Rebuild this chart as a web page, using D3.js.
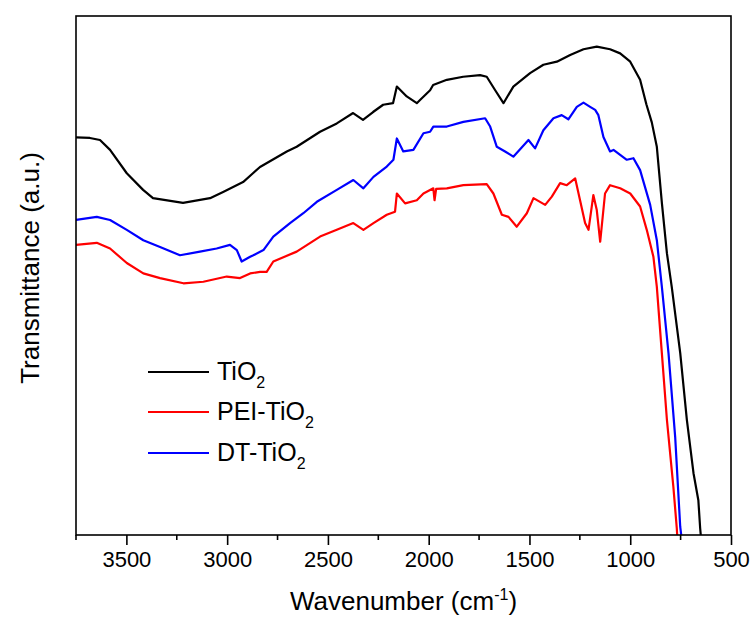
<!DOCTYPE html>
<html>
<head>
<meta charset="utf-8">
<script src="https://cdn.jsdelivr.net/npm/d3@7"></script>
<style>
  body { margin: 0; background: #fff; }
  text { font-family: Arial, "Liberation Sans", sans-serif; fill: #000; }
</style>
</head>
<body>
<svg id="chart" width="753" height="619"></svg>
<script>
// FTIR spectra, [wavenumber cm-1, transmittance a.u.]
var tio2 = [
  [3750, 76.6], [3681, 76.5], [3631, 76.1], [3581, 74.2], [3498, 69.7], [3417, 66.5],
  [3368, 64.9], [3219, 64.0], [3085, 64.9], [3020, 66.1], [2921, 68.0], [2872, 69.7],
  [2837, 70.9], [2704, 73.9], [2655, 74.8], [2539, 77.7], [2456, 79.3], [2375, 81.3],
  [2326, 80.0], [2276, 81.5], [2226, 82.9], [2177, 83.2], [2158, 86.4], [2109, 84.5],
  [2059, 83.2], [2043, 83.8], [1993, 85.7], [1978, 86.7], [1910, 87.7], [1829, 88.3],
  [1745, 88.6], [1712, 88.3], [1670, 85.7], [1629, 83.2], [1580, 86.4], [1497, 89.0],
  [1431, 90.6], [1364, 91.2], [1298, 92.5], [1232, 93.6], [1166, 94.1], [1100, 93.6],
  [1050, 92.8], [1000, 91.2], [951, 87.7], [920, 83.0], [893, 79.5], [868, 74.8],
  [843, 64.0], [818, 54.3], [794, 47.8], [752, 35.1], [719, 22.2], [686, 11.9],
  [662, 6.7], [653, 1.3], [650, 0]
];
var peiTio2 = [
  [3750, 55.9], [3647, 56.3], [3581, 55.2], [3498, 52.4], [3416, 50.4], [3333, 49.5],
  [3217, 48.5], [3118, 48.8], [3002, 49.8], [2936, 49.5], [2886, 50.4], [2837, 50.7],
  [2804, 50.7], [2771, 52.7], [2655, 54.6], [2539, 57.5], [2456, 58.8], [2374, 60.1],
  [2324, 58.8], [2274, 60.1], [2208, 61.7], [2167, 62.3], [2158, 65.8], [2117, 63.9],
  [2059, 64.5], [2026, 65.8], [1977, 66.8], [1971, 64.5], [1963, 66.7], [1910, 66.8],
  [1828, 67.4], [1712, 67.6], [1679, 65.8], [1637, 61.7], [1604, 61.3], [1563, 59.4],
  [1513, 62.0], [1480, 64.9], [1422, 63.6], [1389, 65.2], [1348, 67.8], [1315, 67.4],
  [1273, 68.7], [1249, 64.5], [1224, 60.1], [1207, 58.8], [1183, 65.5], [1166, 62.6],
  [1149, 56.5], [1125, 65.8], [1100, 67.4], [1050, 66.8], [1000, 65.8], [951, 63.3],
  [918, 58.8], [885, 53.6], [868, 47.8], [843, 35.0], [818, 22.2], [786, 9.3],
  [769, 1.3], [767, 0]
];
var dtTio2 = [
  [3750, 60.7], [3647, 61.3], [3581, 60.7], [3498, 58.8], [3416, 56.8], [3333, 55.5],
  [3234, 53.9], [3135, 54.6], [3052, 55.2], [2986, 55.9], [2952, 54.9], [2928, 52.7],
  [2886, 53.6], [2870, 53.9], [2820, 54.9], [2771, 57.5], [2688, 60.1], [2622, 62.0],
  [2555, 64.2], [2456, 66.5], [2374, 68.4], [2324, 66.8], [2274, 69.0], [2208, 71.0],
  [2175, 72.3], [2158, 76.4], [2126, 73.9], [2076, 74.2], [2026, 77.4], [1993, 77.7],
  [1977, 78.7], [1910, 78.7], [1828, 79.6], [1720, 80.3], [1695, 78.7], [1662, 74.8],
  [1621, 73.9], [1580, 72.9], [1505, 76.1], [1472, 74.5], [1431, 78.0], [1381, 80.3],
  [1340, 80.9], [1307, 80.1], [1265, 82.5], [1232, 83.3], [1199, 82.5], [1174, 81.9],
  [1158, 80.9], [1133, 76.7], [1100, 73.9], [1083, 74.2], [1017, 72.3], [984, 72.6],
  [951, 70.3], [901, 63.6], [868, 56.8], [843, 47.8], [810, 35.0], [777, 18.9],
  [752, 1.6], [747, 0]
];

var seriesNames = ["TiO2", "PEI-TiO2", "DT-TiO2"];
var seriesColors = ["#000000", "#ff0000", "#0000ff"];
var xTicks = [3500, 3000, 2500, 2000, 1500, 1000, 500];
var xMinorTicks = [3750, 3250, 2750, 2250, 1750, 1250, 750];

var margin = {left: 76, right: 22, top: 16, bottom: 84};
var W = 753, H = 619;

var svg = d3.select('#chart');

var x = d3.scaleLinear().domain([3750, 500]).range([margin.left, W - margin.right]);
var y = d3.scaleLinear().domain([0, 100]).range([H - margin.bottom, margin.top]);

svg.append('clipPath').attr('id', 'clip')
  .append('rect')
  .attr('x', margin.left).attr('y', margin.top)
  .attr('width', W - margin.left - margin.right)
  .attr('height', H - margin.top - margin.bottom);

var line = d3.line()
  .x(function(d) { return x(d[0]); })
  .y(function(d) { return y(d[1]); });

var allSeries = [tio2, peiTio2, dtTio2];
svg.append('g').attr('clip-path', 'url(#clip)')
  .selectAll('path')
  .data(allSeries)
  .enter()
  .append('path')
  .attr('d', line)
  .attr('fill', 'none')
  .attr('stroke', function(d, i) { return seriesColors[i]; })
  .attr('stroke-width', 2.2)
  .attr('stroke-linejoin', 'round');

// frame
svg.append('rect')
  .attr('x', margin.left).attr('y', margin.top)
  .attr('width', W - margin.left - margin.right)
  .attr('height', H - margin.top - margin.bottom)
  .attr('fill', 'none')
  .attr('stroke', '#000')
  .attr('stroke-width', 1.6);

// bottom axis
var xAxis = d3.axisBottom(x).tickValues(xTicks).tickFormat(d3.format('d')).tickSize(10).tickPadding(6);
var gx = svg.append('g')
  .attr('transform', 'translate(0,' + (H - margin.bottom) + ')')
  .call(xAxis);
gx.select('.domain').remove();
gx.selectAll('.tick line').attr('stroke', '#000').attr('stroke-width', 1.6);
gx.selectAll('.tick text')
  .style('font-size', '22px')
  .attr('fill', '#000');

svg.append('g')
  .attr('transform', 'translate(0,' + (H - margin.bottom) + ')')
  .selectAll('line')
  .data(xMinorTicks)
  .enter()
  .append('line')
  .attr('x1', function(d) { return x(d); })
  .attr('x2', function(d) { return x(d); })
  .attr('y1', 0).attr('y2', 5)
  .attr('stroke', '#000')
  .attr('stroke-width', 1.6);

// axis titles
var xt = svg.append('text')
  .attr('x', (margin.left + W - margin.right) / 2)
  .attr('y', 610)
  .attr('text-anchor', 'middle')
  .style('font-size', '26px');
xt.append('tspan').text('Wavenumber (cm');
xt.append('tspan').attr('dy', -10).style('font-size', '16px').text('-1');
xt.append('tspan').attr('dy', 10).text(')');

svg.append('text')
  .attr('transform', 'translate(39,' + 268 + ') rotate(-90)')
  .attr('text-anchor', 'middle')
  .style('font-size', '26px')
  .text('Transmittance (a.u.)');

// legend
var legendY = [372, 412, 453];
var leg = svg.append('g')
  .selectAll('g')
  .data(seriesNames)
  .enter()
  .append('g')
  .attr('transform', function(d, i) { return 'translate(148,' + legendY[i] + ')'; });

leg.append('line')
  .attr('x1', 0).attr('x2', 61)
  .attr('stroke', function(d, i) { return seriesColors[i]; })
  .attr('stroke-width', 2);

var lt = leg.append('text')
  .attr('x', 69)
  .attr('y', 8)
  .style('font-size', '25px');
lt.append('tspan').text(function(d) { return d.slice(0, -1); });
lt.append('tspan').attr('dy', 8).style('font-size', '16px').text(function(d) { return d.slice(-1); });
</script>
</body>
</html>
